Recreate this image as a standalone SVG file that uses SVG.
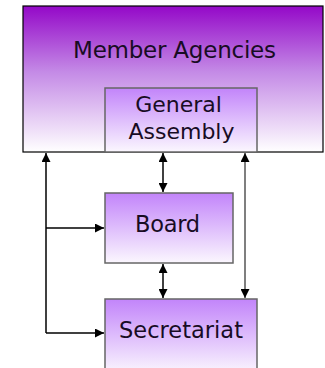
<svg xmlns="http://www.w3.org/2000/svg" width="325" height="368" viewBox="0 0 325 368">
<defs>
<linearGradient id="gOuter" x1="0" y1="0" x2="0" y2="1">
<stop offset="0" stop-color="#9408c8"/>
<stop offset="0.45" stop-color="#c48ae6"/>
<stop offset="1" stop-color="#ffffff"/>
</linearGradient>
<linearGradient id="gBox" x1="0" y1="0" x2="0" y2="1">
<stop offset="0" stop-color="#c284fa"/>
<stop offset="1" stop-color="#fbf7fe"/>
</linearGradient>
<marker id="ah" viewBox="0 0 10 10" refX="10" refY="5" markerWidth="9" markerHeight="9" markerUnits="userSpaceOnUse" orient="auto-start-reverse">
<path d="M0,0 L10,5 L0,10 Z" fill="#000"/>
</marker>
<style>
text{font-family:"DejaVu Sans",Verdana,sans-serif;fill:#180c24;text-anchor:middle}
.box{stroke:#666;stroke-width:1.5;fill:url(#gBox)}
.ln{stroke:#000;stroke-width:1.5;fill:none}
</style>
</defs>
<g id="member-agencies">
<rect x="23" y="6" width="300" height="146" fill="url(#gOuter)" stroke="#000" stroke-width="1.2"/>
<text x="174.5" y="58" font-size="23" textLength="203">Member Agencies</text>
</g>
<g id="general-assembly">
<rect class="box" x="105" y="88" width="152" height="64"/>
<text x="178.5" y="112" font-size="22">General</text>
<text x="181.5" y="138.5" font-size="22">Assembly</text>
</g>
<g id="board">
<rect class="box" x="105" y="193" width="128" height="70"/>
<text x="167.5" y="232" font-size="22.5" textLength="65">Board</text>
</g>
<g id="secretariat">
<rect class="box" x="105" y="299" width="152" height="75"/>
<text x="181" y="338" font-size="22.5" textLength="124">Secretariat</text>
</g>
<g id="connectors">
<path class="ln" d="M46,333 L46,153" marker-end="url(#ah)"/>
<path class="ln" d="M46,228 L104,228" marker-end="url(#ah)"/>
<path class="ln" d="M46,333 L104,333" marker-end="url(#ah)"/>
<path class="ln" d="M163,153 L163,192" marker-start="url(#ah)" marker-end="url(#ah)"/>
<path class="ln" d="M163,264 L163,298" marker-start="url(#ah)" marker-end="url(#ah)"/>
<path class="ln" style="stroke:#555" d="M245,153 L245,298" marker-start="url(#ah)" marker-end="url(#ah)"/>
</g>
</svg>
